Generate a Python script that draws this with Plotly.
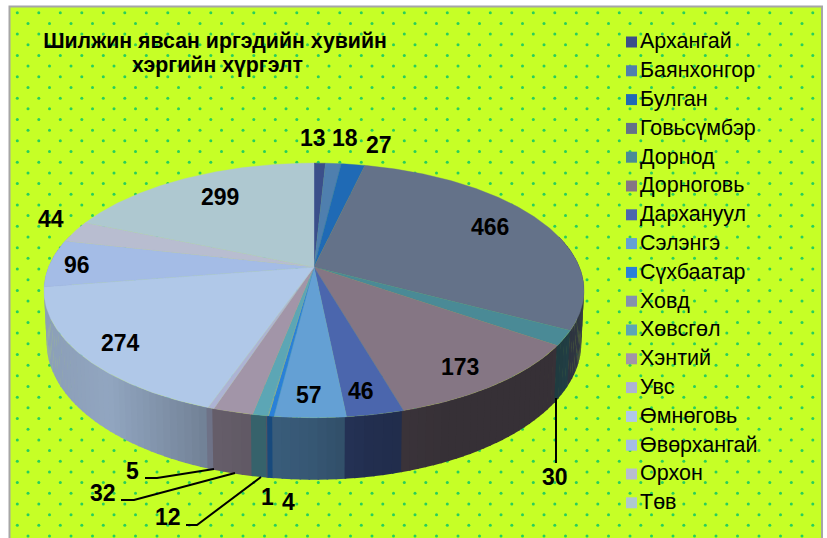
import numpy as np
import plotly.graph_objects as go

regions = ["Архангай", "Баянхонгор", "Булган", "Говьсүмбэр", "Дорнод", "Дорноговь",
           "Дархануул", "Сэлэнгэ", "Сүхбаатар", "Ховд", "Хөвсгөл", "Хэнтий", "Увс",
           "Өмнөговь", "Өвөрхангай", "Орхон", "Төв"]
# reading order of the slices, clockwise from 12 o'clock
values = [13, 18, 27, 466, 30, 173, 46, 57, 4, 1, 12, 32, 5, 274, 96, 44, 299]
colors = ["#3b4f8a", "#4f7fae", "#1f6ab5", "#647289", "#4a8a96", "#857684", "#4b66ad",
          "#64a0d4", "#2a80d8", "#8492ae", "#5ca6b5", "#a295a8", "#adb3d4", "#b0c8e8",
          "#a4bce6", "#b8bdd0", "#aec8d0"]
title_lines = ["Шилжин явсан иргэдийн хувийн", "хэргийн хүргэлт"]

# label anchor positions in pixels
label_pos = [(313, 138), (345, 138), (379, 145), (490, 227), (555, 477), (460, 367),
             (361, 391), (309, 395), (288, 502), (267, 497), (168, 517), (103, 493),
             (132, 471), (120, 343), (77, 265), (51, 219), (220, 197)]
leaders = ["M145,478 L157,478 L214,469", "M121,500 L134,500 L235,473",
           "M186,525 L197,525 L261,477", "M556,398 L556,463"]

W, H = 827, 538
CX, CY, A, B, K, WALL, SHRINK = 314, 267, 265.4, 123, 0.184, 50.6, 0.99


def top_pt(deg):
    t = np.radians(deg)
    a, b = np.sin(t), np.cos(t)
    w = 1 + K * b
    return CX + A * a / w, CY - B * b / w


def bot_pt(deg):
    t = np.radians(deg)
    a, b = np.sin(t), np.cos(t)
    w = 1 + K * b
    return CX + SHRINK * A * a / w, CY - B * b / w + WALL / w


def shade_at(x):
    return np.interp(x, [44, 60, 110, 190, 215, 250, 310, 370, 450, 550, 584],
                     [0.8, 0.8, 0.83, 0.68, 0.63, 0.6, 0.55, 0.46, 0.41, 0.41, 0.5])


def mix(hexcol, f):
    r, g, b = [int(hexcol[i:i + 2], 16) for i in (1, 3, 5)]
    return f"rgb({int(r * f)},{int(g * f)},{int(b * f)})"


fig = go.Figure()

# dotted background
rows = np.arange(0, 50)
dx, dy = [], []
for r in rows:
    xs = np.arange(17.3 + (10.7 if r % 2 else 0) - 21.5, 820, 21.5)
    xs = xs[xs > 11]
    dx.extend(xs.tolist())
    dy.extend([12.7 + 10.68 * r] * len(xs))
fig.add_trace(go.Scatter(x=dx, y=dy, mode="markers", hoverinfo="skip", showlegend=False,
                         marker=dict(size=3, color="#26cf5c", line=dict(width=0))))

total = sum(values)
edges = np.concatenate([[0], np.cumsum(values)]) / total * 360

# side wall, split into overlapping strips for the shading
strips = []
for i in range(len(values)):
    s, e = edges[i], edges[i + 1]
    lo, hi = max(s, 75), min(e, 285)
    if hi <= lo:
        continue
    n = max(1, int((hi - lo) / 1.5))
    cuts = np.linspace(lo, hi, n + 1)
    for c0, c1 in zip(cuts[:-1], cuts[1:]):
        strips.append((i, c0, c1))
strips.sort(key=lambda st: st[1], reverse=True)
for i, c0, c1 in strips:
    ang = np.linspace(c0, min(c1 + 0.3, 285), 4)
    tx, ty = top_pt(ang)
    bx, by = bot_pt(ang[::-1])
    col = mix(colors[i], shade_at((tx.mean() + bx.mean()) / 2))
    fig.add_trace(go.Scatter(x=np.r_[tx, bx, tx[0]], y=np.r_[ty, by, ty[0]], mode="lines",
                             fill="toself", fillcolor=col, line=dict(width=0),
                             hoverinfo="skip", showlegend=False))

# top face
for i, name in enumerate(regions):
    ang = np.linspace(edges[i], edges[i + 1], max(3, int(edges[i + 1] - edges[i]) * 2))
    ex, ey = top_pt(ang)
    fig.add_trace(go.Scatter(x=np.r_[CX, ex, CX], y=np.r_[CY, ey, CY], mode="lines",
                             fill="toself", fillcolor=colors[i],
                             line=dict(color=colors[i], width=0.4), name=name,
                             text=f"{name}: {values[i]}", hoverinfo="text", showlegend=False))

# key
key_y = 42 + 28.8 * np.arange(len(regions))
fig.add_trace(go.Scatter(x=[631.5] * len(regions), y=key_y, mode="markers", hoverinfo="skip", showlegend=False,
                         marker=dict(symbol="square", size=11, color=colors, line=dict(width=0))))
fig.add_trace(go.Scatter(x=[640] * len(regions), y=key_y + 1, mode="text", text=regions,
                         textposition="middle right", hoverinfo="skip", showlegend=False,
                         textfont=dict(family="Liberation Sans", size=21.5, color="#000")))

annotations = [dict(x=px, y=py, text=f"<b>{v}</b>", showarrow=False, xref="x", yref="y",
                    font=dict(family="Liberation Sans", size=23, color="#000"))
               for v, (px, py) in zip(values, label_pos)]
annotations.append(dict(x=217, y=65, text=f"<b>{title_lines[1]}</b>", showarrow=False, xref="x", yref="y",
                        font=dict(family="Liberation Sans", size=21.3, color="#000")))

shapes = [dict(type="rect", layer="below", x0=9.5, y0=6.5, x1=822, y1=545,
               fillcolor="#c6ff26", line=dict(color="#a6a6a6", width=2))]
shapes += [dict(type="path", path=p, line=dict(color="#000", width=2)) for p in leaders]

fig.update_layout(
    width=W, height=H, margin=dict(l=0, r=0, t=0, b=0), paper_bgcolor="#fff", plot_bgcolor="rgba(0,0,0,0)",
    showlegend=False,
    title=dict(text=f"<b>{title_lines[0]}</b>", x=215 / W, xanchor="center", y=1 - 41 / H, yanchor="middle",
               font=dict(family="Liberation Sans", size=21.3, color="#000")),
    xaxis=dict(range=[0, W], visible=False, fixedrange=True),
    yaxis=dict(range=[H, 0], visible=False, fixedrange=True),
    annotations=annotations, shapes=shapes,
)
fig.write_html("out.html", post_script="document.body.style.margin='0';document.body.style.overflow='hidden';",
               config=dict(displayModeBar=False))
